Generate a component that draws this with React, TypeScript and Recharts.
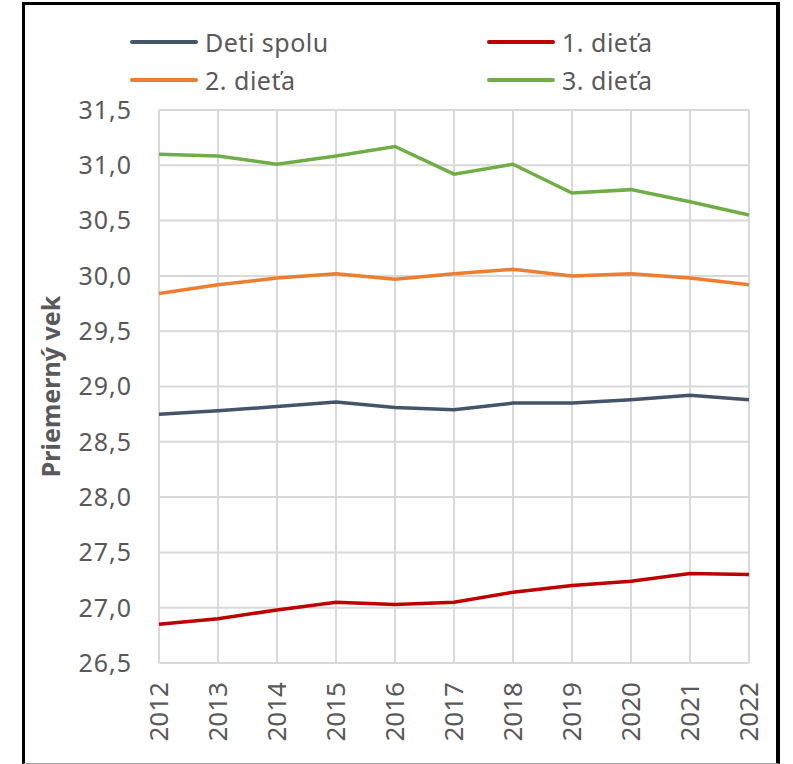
import React from 'react';
import { LineChart, Line, XAxis, YAxis, CartesianGrid } from 'recharts';

const years = ['2012', '2013', '2014', '2015', '2016', '2017', '2018', '2019', '2020', '2021', '2022'];
const detiSpolu = [28.75, 28.78, 28.82, 28.86, 28.81, 28.79, 28.85, 28.85, 28.88, 28.92, 28.88];
const prveDieta = [26.85, 26.9, 26.98, 27.05, 27.03, 27.05, 27.14, 27.2, 27.24, 27.31, 27.3];
const druheDieta = [29.84, 29.92, 29.98, 30.02, 29.97, 30.02, 30.06, 30.0, 30.02, 29.98, 29.92];
const tretieDieta = [31.1, 31.085, 31.01, 31.085, 31.17, 30.92, 31.01, 30.75, 30.78, 30.67, 30.55];
const yTicks = [26.5, 27, 27.5, 28, 28.5, 29, 29.5, 30, 30.5, 31, 31.5];

const series = [
  { key: 'deti', name: 'Deti spolu', color: '#44546A', values: detiSpolu },
  { key: 'prve', name: '1. dieťa', color: '#C00000', values: prveDieta },
  { key: 'druhe', name: '2. dieťa', color: '#ED7D31', values: druheDieta },
  { key: 'tretie', name: '3. dieťa', color: '#70AD47', values: tretieDieta },
];

const data = years.map((year, i) => {
  const row: Record<string, string | number> = { year };
  series.forEach((s) => {
    row[s.key] = s.values[i];
  });
  return row;
});

const FONT = '"Noto Sans", "Open Sans", sans-serif';
const TEXT = '#595959';

const XTick = (props: any) => {
  const { x, y, payload } = props;
  return (
    <text
      transform={`translate(${x},${y + 19}) rotate(-90)`}
      textAnchor="end"
      dy="0.36em"
      fill={TEXT}
      fontSize={26}
      fontFamily={FONT}
    >
      {payload.value}
    </text>
  );
};

const legendPos = [
  { left: 130, top: 42 },
  { left: 487, top: 42 },
  { left: 130, top: 80 },
  { left: 487, top: 80 },
];

export default function App() {
  return (
    <div style={{ position: 'absolute', left: 0, top: 0, width: 793, height: 764, background: '#fff' }}>
      <div
        style={{
          position: 'absolute',
          left: 22,
          top: 2,
          width: 758,
          height: 762,
          boxSizing: 'border-box',
          borderTop: '3px solid #000',
          borderLeft: '3px solid #000',
          borderRight: '4px solid #000',
          borderBottom: '1px solid #a0a0a0',
        }}
      />
      {series.map((s, i) => (
        <div
          key={s.key}
          style={{
            position: 'absolute',
            left: legendPos[i].left,
            top: legendPos[i].top - 20,
            height: 40,
            display: 'flex',
            alignItems: 'center',
            fontFamily: FONT,
            fontSize: 25,
            color: TEXT,
            letterSpacing: 0.5,
            whiteSpace: 'nowrap',
          }}
        >
          <div style={{ width: 68, height: 4, background: s.color, borderRadius: 2, marginRight: 7 }} />
          <span style={{ lineHeight: '40px' }}>{s.name}</span>
        </div>
      ))}
      <div style={{ position: 'absolute', left: 0, top: 0 }}>
        <LineChart width={793} height={764} data={data} margin={{ top: 110, right: 44, bottom: 21, left: 0 }}>
          <CartesianGrid stroke="#d9d9d9" strokeWidth={2} vertical horizontal />
          <XAxis
            dataKey="year"
            interval={0}
            height={80}
            axisLine={false}
            tickLine={false}
            tickSize={0}
            tickMargin={0}
            tick={<XTick />}
          />
          <YAxis
            width={159}
            domain={[26.5, 31.5]}
            ticks={yTicks}
            interval={0}
            axisLine={false}
            tickLine={false}
            tickSize={0}
            tickMargin={27}
            tickFormatter={(v: number) => v.toFixed(1).replace('.', ',')}
            tick={{ fill: TEXT, fontSize: 25, fontFamily: FONT, letterSpacing: 1 }}
            label={{
              value: 'Priemerný vek',
              angle: -90,
              position: 'insideLeft',
              offset: 51,
              style: { fill: TEXT, fontSize: 25, fontWeight: 'bold', fontFamily: FONT, textAnchor: 'middle' },
            }}
          />
          {series.map((s) => (
            <Line
              key={s.key}
              type="linear"
              dataKey={s.key}
              name={s.name}
              stroke={s.color}
              strokeWidth={3.5}
              dot={false}
              activeDot={false}
              isAnimationActive={false}
            />
          ))}
        </LineChart>
      </div>
    </div>
  );
}
